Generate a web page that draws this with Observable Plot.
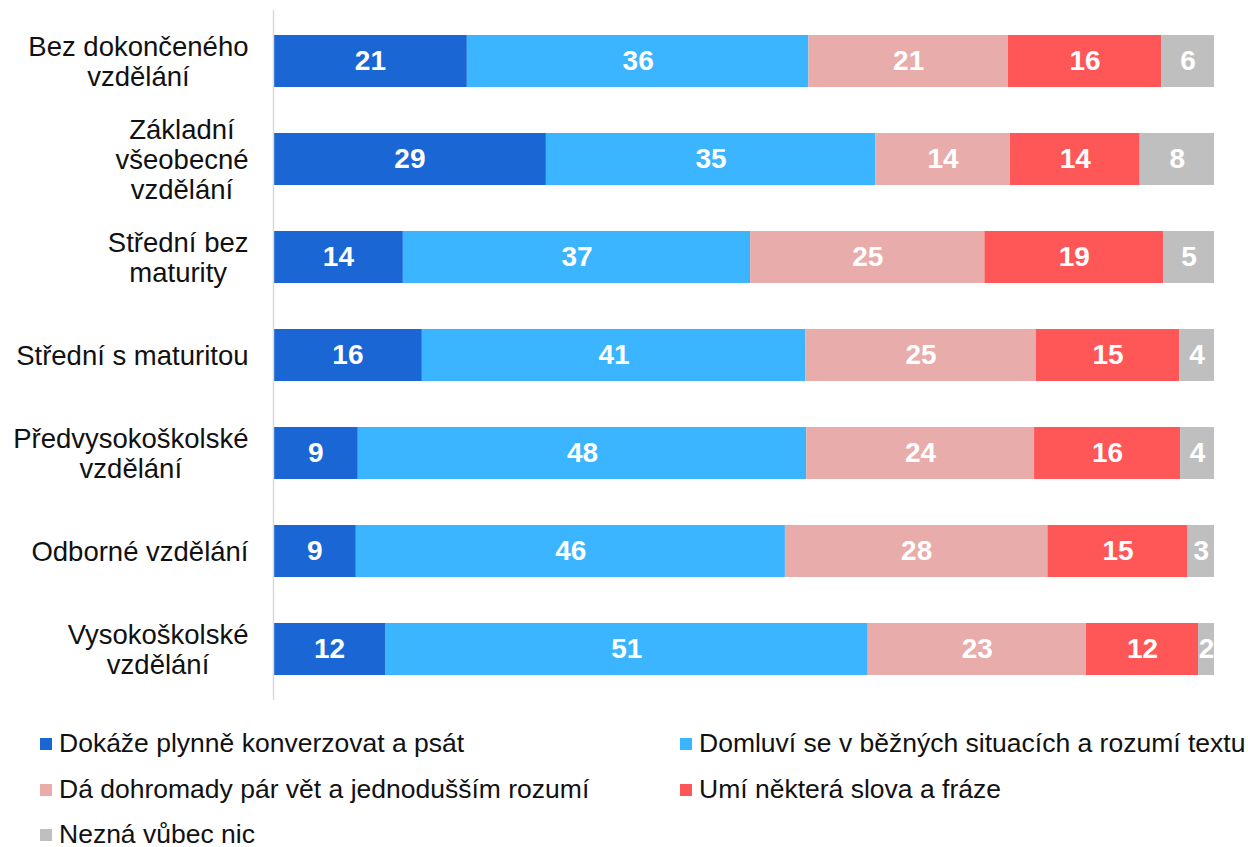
<!DOCTYPE html>
<html>
<head>
<meta charset="utf-8">
<script src="https://cdn.jsdelivr.net/npm/d3@7"></script>
<script src="https://cdn.jsdelivr.net/npm/@observablehq/plot@0.6"></script>
<style>
  body { margin: 0; background: #fff; font-family: "Liberation Sans", Arial, sans-serif; overflow: hidden; }
  #legend { position: relative; height: 135px; width: 1248px; }
  .item { position: absolute; display: flex; align-items: center; font-size: 26.5px; line-height: 1.1; color: #111; white-space: nowrap; }
  .sw { width: 12px; height: 12px; margin-right: 7px; flex: none; }
</style>
</head>
<body>
<div id="chart"></div>
<div id="legend"></div>
<script>
const categories = [
  "Bez dokončeného\nvzdělání",
  "Základní\nvšeobecné\nvzdělání",
  "Střední bez\nmaturity",
  "Střední s maturitou",
  "Předvysokoškolské\nvzdělání",
  "Odborné vzdělání",
  "Vysokoškolské\nvzdělání"
];
const levels = [
  "Dokáže plynně konverzovat a psát",
  "Domluví se v běžných situacích a rozumí textu",
  "Dá dohromady pár vět a jednodušším rozumí",
  "Umí některá slova a fráze",
  "Nezná vůbec nic"
];
const colors = ["#1a66d4", "#3bb5ff", "#e8acab", "#ff5757", "#bfbfbf"];
// values per level (same order as categories)
const plynne   = [20.6, 29.0, 13.8, 15.8,  9.0,  8.8, 11.9];
const domluvi  = [36.3, 35.0, 36.9, 40.7, 47.6, 45.6, 51.3];
const parVet   = [21.2, 14.3, 24.9, 24.5, 24.2, 27.9, 23.2];
const slova    = [16.3, 13.8, 19.0, 15.2, 15.5, 14.9, 11.9];
const nic      = [ 5.6,  7.9,  5.4,  3.7,  3.6,  2.8,  1.7];

const series = [plynne, domluvi, parVet, slova, nic];
const data = [];
categories.forEach((c, i) => {
  series.forEach((s, j) => data.push({category: c, level: levels[j], value: s[i]}));
});

const font = '"Liberation Sans", Arial, sans-serif';
const labelSize = 27.5;
const ctx = document.createElement("canvas").getContext("2d");
ctx.font = `${labelSize}px "Liberation Sans", Arial, sans-serif`;
const blockWidth = c => Math.max(...c.split("\n").map(s => ctx.measureText(s).width));

const stackOpts = {x: "value", y: "category", z: "level", order: levels, offset: "normalize"};

const labelMarks = categories.map(c => Plot.text([c], {
  y: d => d, text: d => d, frameAnchor: "left", textAnchor: "middle",
  dx: -(25 + blockWidth(c) / 2), fontSize: labelSize, lineHeight: 30 / labelSize, fill: "#111"
}));

const chart = Plot.plot({
  width: 1248,
  height: 712,
  marginLeft: 273,
  marginRight: 34,
  marginTop: 10,
  marginBottom: 12,
  style: {fontFamily: font, background: "white"},
  x: {axis: null, domain: [0, 1]},
  y: {domain: categories, axis: null, paddingInner: 0.47, paddingOuter: 0.235},
  color: {domain: levels, range: colors},
  marks: [
    Plot.barX(data, Plot.stackX({...stackOpts, fill: "level"})),
    Plot.text(data, Plot.stackX({...stackOpts, text: d => String(Math.round(d.value)),
      fill: "white", fontWeight: "bold", fontSize: 28})),
    Plot.ruleX([0], {stroke: "#d9d9d9", strokeWidth: 1.5}),
    ...labelMarks
  ]
});
document.getElementById("chart").appendChild(chart);

const legend = document.getElementById("legend");
const pos = [[40, 12], [680, 12], [40, 58], [680, 58], [40, 103]];
levels.forEach((l, i) => {
  const d = document.createElement("div");
  d.className = "item";
  d.style.left = pos[i][0] + "px";
  d.style.top = pos[i][1] + "px";
  d.style.height = "40px";
  d.innerHTML = `<span class="sw" style="background:${colors[i]}"></span><span>${l}</span>`;
  legend.appendChild(d);
});
</script>
</body>
</html>
